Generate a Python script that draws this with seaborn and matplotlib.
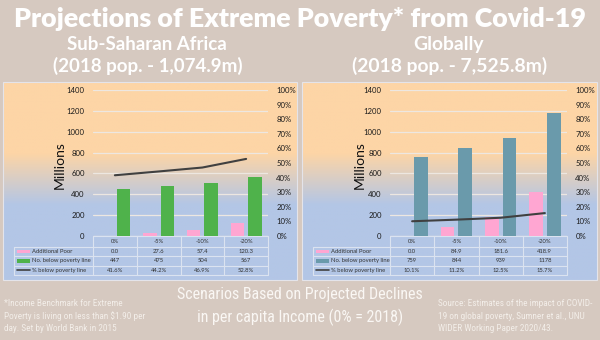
import numpy as np
import pandas as pd
import matplotlib
matplotlib.use("Agg")
import matplotlib.pyplot as plt
from matplotlib import font_manager
from matplotlib.colors import LinearSegmentedColormap
import seaborn as sns

# ---------------- data ----------------
scenarios = ["0%", "-5%", "-10%", "-20%"]
ssa_additional = [0.0, 27.6, 57.4, 120.3]
ssa_below = [447, 475, 504, 567]
ssa_pct = [41.6, 44.2, 46.9, 52.8]
glob_additional = [0.0, 84.9, 181.6, 418.9]
glob_below = [759, 844, 939, 1178]
glob_pct = [10.1, 11.2, 12.5, 15.7]
series_names = ["Additional Poor", "No. below poverty line", "% below poverty line"]
left_ticks = [0, 200, 400, 600, 800, 1000, 1200, 1400]
right_ticks = [0, 10, 20, 30, 40, 50, 60, 70, 80, 90, 100]

title = "Projections of Extreme Poverty* from Covid-19"
sub_left = ["Sub-Saharan Africa", "(2018 pop. - 1,074.9m)"]
sub_right = ["Globally", "(2018 pop. - 7,525.8m)"]
footnote = ["*Income Benchmark for Extreme",
            "Poverty is living on less than $1.90 per",
            "day. Set by World Bank in 2015"]
center_note = ["Scenarios Based on Projected Declines", "in per capita Income (0% = 2018)"]
source = ["Source: Estimates of the impact of COVID-",
          "19 on global poverty, Sumner et al., UNU",
          "WIDER Working Paper 2020/43."]

# ---------------- style ----------------
sns.set_theme(style="white")
plt.rcParams["font.family"] = ["Lato", "DejaVu Sans"]

# choose a condensed face if one is installed
_names = {(f.name, f.stretch) for f in font_manager.fontManager.ttflist}
_allnames = {f.name for f in font_manager.fontManager.ttflist}
NARROW = dict(family=["Roboto", "DejaVu Sans"])
for cand in ["Roboto Condensed", "Liberation Sans Narrow", "Open Sans Condensed"]:
    if cand in _allnames:
        NARROW = dict(family=[cand, "DejaVu Sans"])
        break
else:
    for nm in ["Roboto", "Open Sans", "Noto Sans", "DejaVu Sans"]:
        if any(n == nm and s in ("condensed", "semi-condensed", 75, 87)
               for n, s in _names):
            NARROW = dict(family=[nm, "DejaVu Sans"], fontstretch="condensed")
            break

BG = "#d6c9c0"
PEACH = "#fdd5a6"
BLUE = "#b3c6e6"
PINK = "#ffa6d2"
GREEN = "#4fb24b"
TEAL = "#6a9aab"
LINE = "#404040"
GRID = "#ede7e1"
TBL = "#dbe3f0"

W, H = 600, 340
fig = plt.figure(figsize=(6, 3.4), dpi=100, facecolor=BG)

deco = fig.add_axes([0, 0, 1, 1], zorder=0)
deco.axis("off")

# gradient panels
cmap = LinearSegmentedColormap.from_list(
    "pb", [(0, PEACH), (0.36, PEACH), (0.62, BLUE), (1, BLUE)])
grad = np.linspace(0, 1, 256).reshape(-1, 1)
panels = [(3, 297), (302, 597)]
P_TOP, P_BOT = 82, 280
for x0, x1 in panels:
    deco.imshow(grad, cmap=cmap, aspect="auto", extent=(x0, x1, P_BOT, P_TOP),
                zorder=0, interpolation="bilinear")
    deco.add_patch(plt.Rectangle((x0, P_TOP), x1 - x0, P_BOT - P_TOP, fill=False,
                                 edgecolor="#e4e4ea", lw=0.8, zorder=1))
deco.set_xlim(0, W)
deco.set_ylim(H, 0)

fits = []  # (list of texts, index of widest, target width px)

t = deco.text(300, 27, title, ha="center", va="baseline", color="white",
              fontsize=19.5, fontweight="heavy")
fits.append(([t], 0, 575))
for cx, txts in [((147, 148), sub_left), ((448, 450), sub_right)]:
    a = deco.text(cx[0], 50, txts[0], ha="center", va="baseline", color="white",
                  fontsize=13.5, fontweight="bold")
    b = deco.text(cx[1], 72, txts[1], ha="center", va="baseline", color="white",
                  fontsize=13.5, fontweight="bold")
    fits.append(([a, b], 1, 190 if cx[0] < 300 else 195))

# bottom texts
fn = [deco.text(4, y, s, ha="left", va="center", color="#f3eee9", fontsize=6.4, **NARROW)
      for y, s in zip([303, 316.5, 328.5], footnote)]
fits.append((fn, 1, 141))
cn = [deco.text(300, y, s, ha="center", va="center", color="#faf7f4", fontsize=12, **NARROW)
      for y, s in zip([295, 317], center_note)]
fits.append((cn, 0, 245))
sr = [deco.text(438, y, s, ha="left", va="center", color="#f3eee9", fontsize=6.4, **NARROW)
      for y, s in zip([303, 316.5, 328.5], source)]
fits.append((sr, 0, 155))

AX_TOP, AX_BOT = 90, 236
ROWS = [236, 246.5, 256.2, 265.6, 275]


def draw_panel(px0, px1, tbl_left, mill_x, additional, below, pct, bar_color):
    ax = fig.add_axes([px0 / W, (H - AX_BOT) / H, (px1 - px0) / W, (AX_BOT - AX_TOP) / H],
                      zorder=2)
    ax.patch.set_alpha(0)
    n = len(scenarios)
    df = pd.DataFrame({
        "scenario": scenarios * 2,
        "value": list(additional) + list(below),
        "series": [series_names[0]] * n + [series_names[1]] * n,
    })
    sns.barplot(data=df, x="scenario", y="value", hue="series", order=scenarios,
                hue_order=series_names[:2], palette=[PINK, bar_color], width=0.8,
                gap=0.22, saturation=1, legend=False, ax=ax, zorder=3,
                linewidth=0, edgecolor="none")
    ax.set_ylim(0, 1400)
    ax.set_xlim(-0.5, n - 0.5)
    ax.set_yticks(left_ticks)
    ax.set_yticklabels([str(v) for v in left_ticks])
    ax.set_xticks([])
    ax.set_xlabel("")
    ax.set_ylabel("")
    ax.grid(axis="y", color=GRID, lw=0.9, zorder=0)
    ax.set_axisbelow(True)
    for s in ax.spines.values():
        s.set_visible(False)
    ax.tick_params(axis="y", length=0, pad=6, labelsize=5.6, labelcolor="#1a1a1a")

    ax2 = ax.twinx()
    ax2.patch.set_alpha(0)
    sns.lineplot(x=np.arange(n), y=pct, ax=ax2, color=LINE, lw=1.5)
    ax2.set_ylim(0, 100)
    ax2.set_yticks(right_ticks)
    ax2.set_yticklabels([f"{v}%" for v in right_ticks])
    ax2.tick_params(axis="y", length=0, pad=6, labelsize=5.6, labelcolor="#1a1a1a")
    ax2.grid(False)
    for s in ax2.spines.values():
        s.set_visible(False)
    ax2.set_xlim(-0.5, n - 0.5)

    deco.text(mill_x, (AX_TOP + AX_BOT) / 2 + 2, "Millions", rotation=90, ha="center",
              va="center", fontsize=10, color="#111111")

    # data table
    cw = (px1 - px0) / n
    colx = [px0 + i * cw for i in range(n + 1)]
    deco.plot([px0, px1], [ROWS[0], ROWS[0]], color=TBL, lw=0.8, zorder=2)
    for y in ROWS[1:]:
        deco.plot([tbl_left, px1], [y, y], color=TBL, lw=0.8, zorder=2)
    for x in colx:
        deco.plot([x, x], [ROWS[0], ROWS[-1]], color=TBL, lw=0.8, zorder=2)
    deco.plot([tbl_left, tbl_left], [ROWS[1], ROWS[-1]], color=TBL, lw=0.8, zorder=2)
    tk = dict(fontsize=4.2, color="#333333", va="center", zorder=3)
    rows_vals = [
        scenarios,
        [f"{v:.1f}" for v in additional],
        [f"{v}" for v in below],
        [f"{v:.1f}%" for v in pct],
    ]
    for r, vals in enumerate(rows_vals):
        yc = (ROWS[r] + ROWS[r + 1]) / 2
        for i, v in enumerate(vals):
            deco.text(px0 + (i + 0.5) * cw, yc, v, ha="center", **tk)
    for r, (name, col) in enumerate(zip(series_names, [PINK, bar_color, LINE])):
        yc = (ROWS[r + 1] + ROWS[r + 2]) / 2
        if r < 2:
            deco.add_patch(plt.Rectangle((tbl_left + 3, yc - 1.8), 13, 3.6, color=col,
                                         zorder=3, lw=0))
        else:
            deco.plot([tbl_left + 3, tbl_left + 16], [yc, yc], color=col, lw=1.2, zorder=3)
        deco.text(tbl_left + 18, yc, name, ha="left", **tk)
    return ax


draw_panel(93, 268, 14, 60, ssa_additional, ssa_below, ssa_pct, GREEN)
draw_panel(390, 567, 313, 360, glob_additional, glob_below, glob_pct, TEAL)
deco.set_xlim(0, W)
deco.set_ylim(H, 0)

# scale text groups so their widths match the layout
fig.canvas.draw()
rend = fig.canvas.get_renderer()
for group, idx, target in fits:
    w = group[idx].get_window_extent(rend).width
    fs = group[idx].get_fontsize() * target / w
    for tt in group:
        tt.set_fontsize(fs)

fig.savefig("out.png", dpi=100, facecolor=BG)
